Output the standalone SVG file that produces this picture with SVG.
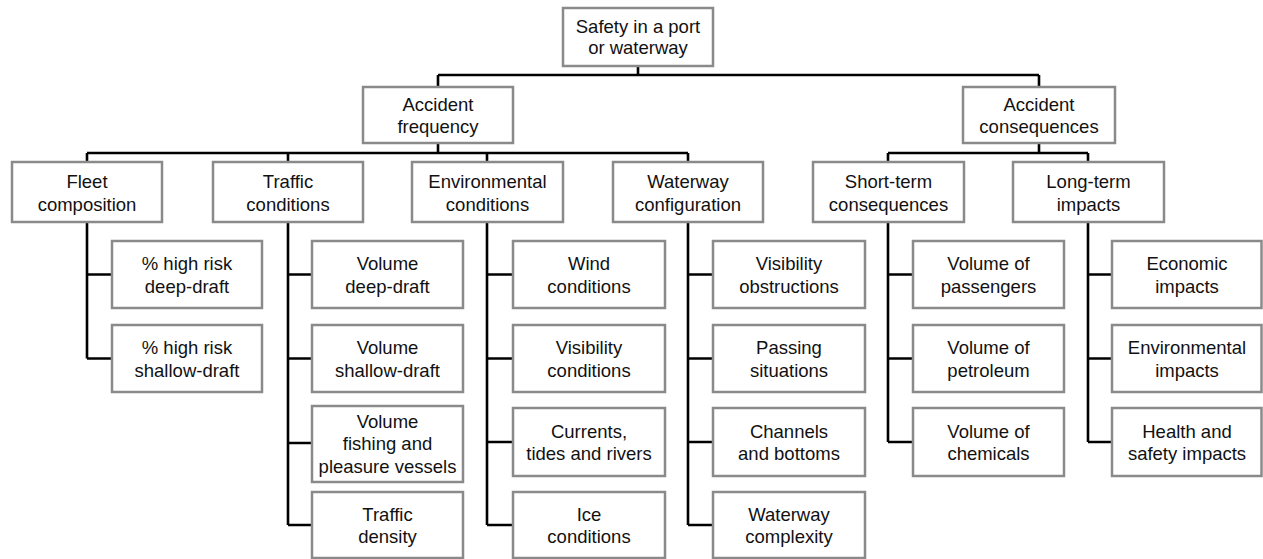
<svg xmlns="http://www.w3.org/2000/svg" width="1263" height="559" viewBox="0 0 1263 559">
<style>
.b{fill:#fff;stroke:#8a8a8a;stroke-width:2.5}
.t{font-family:"Liberation Sans",Arial,sans-serif;font-size:18.5px;fill:#111;text-anchor:middle}
.c{fill:none;stroke:#000;stroke-width:2.6}
</style>
<rect width="1263" height="559" fill="#fff"/>
<g id="connectors" class="c">
<path d="M638 66V75M438 75H1039M438 75V87M1039 75V87"/>
<path d="M438 143V153M87 153H688M87 153V162M288 153V162M487 153V162M688 153V162"/>
<path d="M1039 143V153M888 153H1088M888 153V162M1088 153V162"/>
<path d="M87 222V358.5M87 274.5H112M87 358.5H112"/>
<path d="M288 222V525M288 274.5H312M288 358.5H312M288 443H312M288 525H312"/>
<path d="M487 222V525M487 274.5H513M487 358.5H513M487 442H513M487 525H513"/>
<path d="M688 222V525M688 274.5H713M688 358.5H713M688 442H713M688 525H713"/>
<path d="M888 222V442M888 274.5H913M888 358.5H913M888 442H913"/>
<path d="M1088 222V442M1088 274.5H1112M1088 358.5H1112M1088 442H1112"/>
</g>
<g id="root"><rect class="b" x="563" y="8" width="150" height="58"/><text class="t" x="638" y="32.5">Safety in a port</text><text class="t" x="638" y="54">or waterway</text></g>
<g id="freq"><rect class="b" x="363" y="87" width="150" height="56"/><text class="t" x="438" y="110.5">Accident</text><text class="t" x="438" y="133">frequency</text></g>
<g id="cons"><rect class="b" x="963" y="87" width="152" height="56"/><text class="t" x="1039" y="110.5">Accident</text><text class="t" x="1039" y="133">consequences</text></g>
<g id="fleet"><rect class="b" x="12" y="162" width="150" height="60"/><text class="t" x="87" y="188">Fleet</text><text class="t" x="87" y="211">composition</text></g>
<g id="traffic"><rect class="b" x="213" y="162" width="150" height="60"/><text class="t" x="288" y="188">Traffic</text><text class="t" x="288" y="211">conditions</text></g>
<g id="env"><rect class="b" x="412" y="162" width="151" height="60"/><text class="t" x="487.5" y="188">Environmental</text><text class="t" x="487.5" y="211">conditions</text></g>
<g id="waterway"><rect class="b" x="613" y="162" width="150" height="60"/><text class="t" x="688" y="188">Waterway</text><text class="t" x="688" y="211">configuration</text></g>
<g id="short"><rect class="b" x="813" y="162" width="151" height="60"/><text class="t" x="888.5" y="188">Short-term</text><text class="t" x="888.5" y="211">consequences</text></g>
<g id="long"><rect class="b" x="1013" y="162" width="151" height="60"/><text class="t" x="1088.5" y="188">Long-term</text><text class="t" x="1088.5" y="211">impacts</text></g>
<g id="f1"><rect class="b" x="112" y="241" width="150" height="67"/><text class="t" x="187" y="270">% high risk</text><text class="t" x="187" y="292.5">deep-draft</text></g>
<g id="f2"><rect class="b" x="112" y="325" width="150" height="67"/><text class="t" x="187" y="354">% high risk</text><text class="t" x="187" y="376.5">shallow-draft</text></g>
<g id="t1"><rect class="b" x="312" y="241" width="151" height="67"/><text class="t" x="387.5" y="270">Volume</text><text class="t" x="387.5" y="292.5">deep-draft</text></g>
<g id="t2"><rect class="b" x="312" y="325" width="151" height="67"/><text class="t" x="387.5" y="354">Volume</text><text class="t" x="387.5" y="376.5">shallow-draft</text></g>
<g id="t3"><rect class="b" x="312" y="406" width="151" height="76"/><text class="t" x="387.5" y="427.5">Volume</text><text class="t" x="387.5" y="450">fishing and</text><text class="t" x="387.5" y="472.5">pleasure vessels</text></g>
<g id="t4"><rect class="b" x="312" y="492" width="151" height="66"/><text class="t" x="387.5" y="520.5">Traffic</text><text class="t" x="387.5" y="543">density</text></g>
<g id="e1"><rect class="b" x="513" y="241" width="152" height="67"/><text class="t" x="589" y="270">Wind</text><text class="t" x="589" y="292.5">conditions</text></g>
<g id="e2"><rect class="b" x="513" y="325" width="152" height="67"/><text class="t" x="589" y="354">Visibility</text><text class="t" x="589" y="376.5">conditions</text></g>
<g id="e3"><rect class="b" x="513" y="408" width="152" height="68"/><text class="t" x="589" y="437.5">Currents,</text><text class="t" x="589" y="460">tides and rivers</text></g>
<g id="e4"><rect class="b" x="513" y="492" width="152" height="66"/><text class="t" x="589" y="520.5">Ice</text><text class="t" x="589" y="543">conditions</text></g>
<g id="w1"><rect class="b" x="713" y="241" width="152" height="67"/><text class="t" x="789" y="270">Visibility</text><text class="t" x="789" y="292.5">obstructions</text></g>
<g id="w2"><rect class="b" x="713" y="325" width="152" height="67"/><text class="t" x="789" y="354">Passing</text><text class="t" x="789" y="376.5">situations</text></g>
<g id="w3"><rect class="b" x="713" y="408" width="152" height="68"/><text class="t" x="789" y="437.5">Channels</text><text class="t" x="789" y="460">and bottoms</text></g>
<g id="w4"><rect class="b" x="713" y="492" width="152" height="66"/><text class="t" x="789" y="520.5">Waterway</text><text class="t" x="789" y="543">complexity</text></g>
<g id="s1"><rect class="b" x="913" y="241" width="151" height="67"/><text class="t" x="988.5" y="270">Volume of</text><text class="t" x="988.5" y="292.5">passengers</text></g>
<g id="s2"><rect class="b" x="913" y="325" width="151" height="67"/><text class="t" x="988.5" y="354">Volume of</text><text class="t" x="988.5" y="376.5">petroleum</text></g>
<g id="s3"><rect class="b" x="913" y="408" width="151" height="68"/><text class="t" x="988.5" y="437.5">Volume of</text><text class="t" x="988.5" y="460">chemicals</text></g>
<g id="l1"><rect class="b" x="1112" y="241" width="149.5" height="67"/><text class="t" x="1187" y="270">Economic</text><text class="t" x="1187" y="292.5">impacts</text></g>
<g id="l2"><rect class="b" x="1112" y="325" width="149.5" height="67"/><text class="t" x="1187" y="354">Environmental</text><text class="t" x="1187" y="376.5">impacts</text></g>
<g id="l3"><rect class="b" x="1112" y="408" width="149.5" height="68"/><text class="t" x="1187" y="437.5">Health and</text><text class="t" x="1187" y="460">safety impacts</text></g>
</svg>
